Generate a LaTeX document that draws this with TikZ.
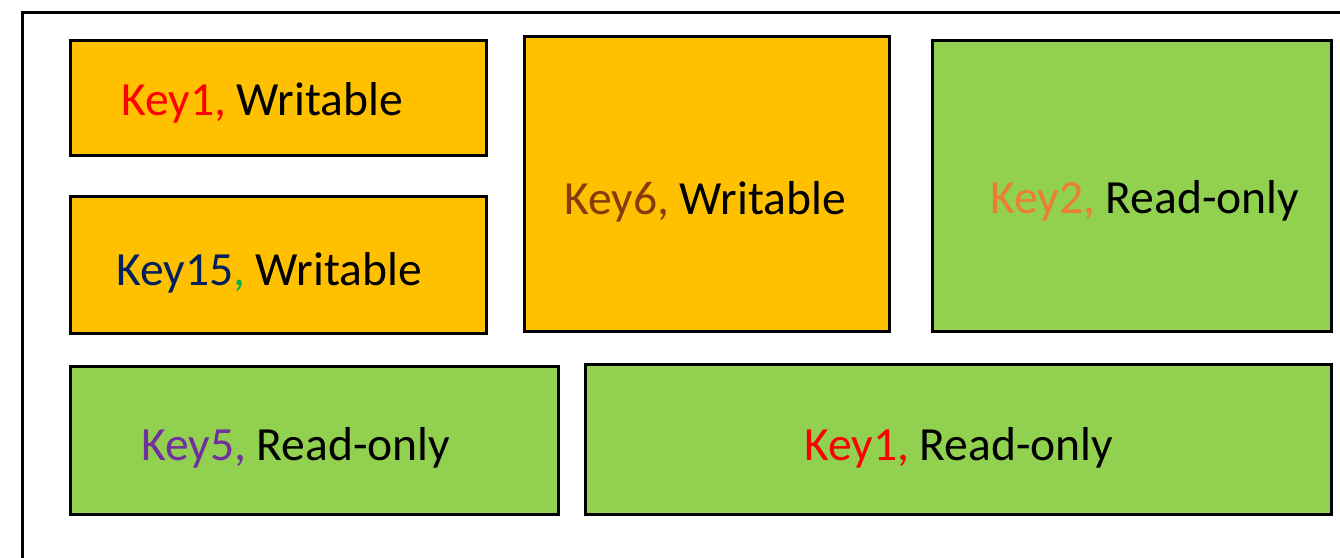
\documentclass[tikz,border=0pt]{standalone}
\usepackage{fontspec}
\setmainfont{Carlito}
\definecolor{wfill}{HTML}{FFC000}
\definecolor{rfill}{HTML}{92D050}
\definecolor{kred}{HTML}{FF0000}
\definecolor{kbrown}{HTML}{843C0C}
\definecolor{korange}{HTML}{ED7D31}
\definecolor{knavy}{HTML}{002060}
\definecolor{kgreen}{HTML}{00B050}
\definecolor{kpurple}{HTML}{7030A0}
\tikzset{
  region/.style={draw=black, line width=3pt},
  writable/.style={region, fill=wfill},
  readonly/.style={region, fill=rfill},
  label/.style={anchor=base west, inner sep=0pt, font=\fontsize{47.6}{57}\selectfont},
}
\begin{document}
\begin{tikzpicture}[x=1pt,y=-1pt]
  \useasboundingbox (0,0) rectangle (1340,557);
  \begin{scope}
    \clip (0,0) rectangle (1340,557);
    \draw[line width=3pt] (22.5,12.5) rectangle (1400,620);
  \end{scope}
  % memory regions
  \draw[writable] (70,40) rectangle (486,155);
  \draw[writable] (70,196) rectangle (486,333);
  \draw[writable] (524,36) rectangle (889,331);
  \draw[readonly] (932,40) rectangle (1331,331);
  \draw[readonly] (70,366) rectangle (558,514);
  \draw[readonly] (585,364) rectangle (1331,514);
  % labels
  \node[label] (l1) at (121,115) {\textcolor{kred}{Key1,} Writable};
  \node[label] (l15) at (116,285) {\textcolor{knavy}{Key15}\textcolor{kgreen}{,} Writable};
  \node[label] (l6) at (564,214) {\textcolor{kbrown}{Key6,} Writable};
  \node[label] (l2) at (990,213) {\textcolor{korange}{Key2,} Read-only};
  \node[label] (l5) at (141,460) {\textcolor{kpurple}{Key5,} Read-only};
  \node[label] (l1r) at (804,460) {\textcolor{kred}{Key1,} Read-only};
\end{tikzpicture}
\end{document}
